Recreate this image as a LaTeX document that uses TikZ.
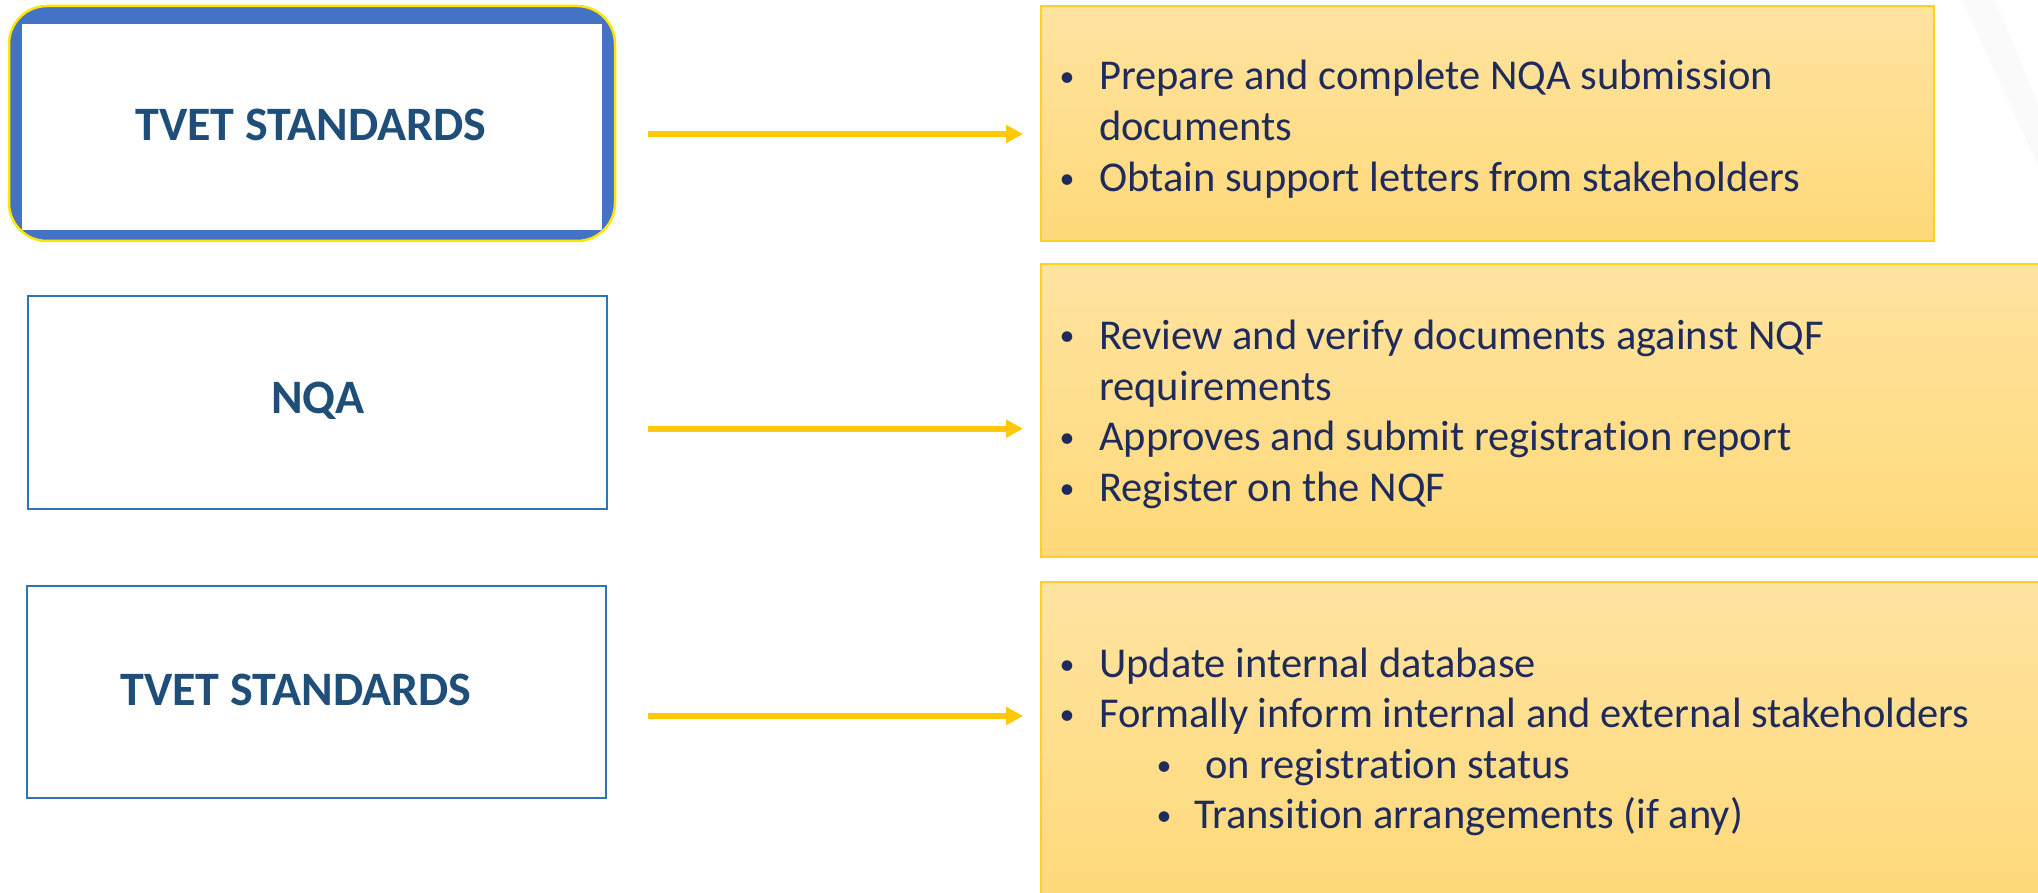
\documentclass[tikz,border=0pt]{standalone}
\usepackage{fontspec}
\setmainfont{Carlito}[Ligatures={NoCommon}]
\usetikzlibrary{arrows.meta}
\definecolor{frameblue}{HTML}{4472C4}
\definecolor{frameyellow}{HTML}{FFE500}
\definecolor{edgeblue}{HTML}{2E75B6}
\definecolor{labelblue}{HTML}{1F4E79}
\definecolor{navy}{HTML}{1F2B5B}
\definecolor{goldline}{HTML}{FFC90A}
\definecolor{paleA}{HTML}{FFE3A0}
\definecolor{paleB}{HTML}{FFD979}
\definecolor{paleedge}{HTML}{FFD21F}
\begin{document}
\begin{tikzpicture}[x=1pt,y=-1pt,
  stepbox/.style={draw=edgeblue, line width=2pt, fill=white, inner sep=0pt},
  actbox/.style={draw=paleedge, line width=2pt, top color=paleA, bottom color=paleB, inner sep=0pt},
  boxlabel/.style={text=labelblue, font=\fontsize{48}{57}\selectfont\bfseries, inner sep=0pt},
  item/.style={text=navy, font=\fontsize{42.5}{51}\selectfont, anchor=base west, inner sep=0pt},
  dot/.style={text=navy, font=\fontsize{30}{36}\selectfont, anchor=base, inner sep=0pt, yshift=3pt},
  flow/.style={draw=goldline, line width=6pt, -{Triangle[length=17pt,width=17.5pt]}}
]
% page
\useasboundingbox (0,0) rectangle (2038,893);
\fill[white] (0,0) rectangle (2038,893);
\clip (0,0) rectangle (2038,893);
% faint background band, top right
\fill[gray!4] (1962,0) -- (1995,0) -- (2038,105) -- (2038,165) -- cycle;

% left column
\node[draw=frameyellow, line width=2.5pt, fill=frameblue, rounded corners=38pt,
      minimum width=606pt, minimum height=235pt, inner sep=0pt] (box1) at (312,123.5) {};
\node[fill=white, minimum width=580.4pt, minimum height=206pt, inner sep=0pt] (box1in) at (311.8,127) {};
\node[boxlabel] (lab1) at (311,125) {TVET STANDARDS};

\node[stepbox, minimum width=579pt, minimum height=213pt] (box2) at (317.4,402.5) {};
\node[boxlabel] (lab2) at (318,400.5) {NQA};

\node[stepbox, minimum width=579pt, minimum height=212pt] (box3) at (316.5,691.5) {};
\node[boxlabel] (lab3) at (296,690) {TVET STANDARDS};

% right column
\node[actbox, minimum width=893pt, minimum height=235pt] (actA) at (1487.5,123.2) {};
\node[actbox, minimum width=1019pt, minimum height=293pt] (actB) at (1550.5,410.5) {};
\node[actbox, minimum width=1019pt, minimum height=328pt] (actC) at (1550.5,746) {};

% items of the first step
\node[dot] (dA1) at (1067,90) {•};
\node[item] (tA1) at (1099,90) {Prepare and complete NQA submission};
\node[item] (tA1b) at (1099,141) {documents};
\node[dot] (dA2) at (1067,192) {•};
\node[item] (tA2) at (1099,192) {Obtain support letters from stakeholders};

% items of the second step
\node[dot] (dB1) at (1067,349) {•};
\node[item] (tB1) at (1099,349) {Review and verify documents against NQF};
\node[item] (tB1b) at (1099,400) {requirements};
\node[dot] (dB2) at (1067,450) {•};
\node[item] (tB2) at (1099,450) {Approves and submit registration report};
\node[dot] (dB3) at (1067,501) {•};
\node[item] (tB3) at (1099,501) {Register on the NQF};

% items of the third step
\node[dot] (dC1) at (1067,677) {•};
\node[item] (tC1) at (1099,677) {Update internal database};
\node[dot] (dC2) at (1067,727) {•};
\node[item] (tC2) at (1099,727) {Formally inform internal and external stakeholders};
\node[dot] (dC3) at (1164,778) {•};
\node[item] (tC3) at (1205,778) {on registration status};
\node[dot] (dC4) at (1164,828) {•};
\node[item] (tC4) at (1194,828) {Transition arrangements (if any)};

% connectors
\coordinate (f1a) at (648,134);   \coordinate (f1b) at (1023,134);
\coordinate (f2a) at (648,428.7); \coordinate (f2b) at (1023,428.7);
\coordinate (f3a) at (648,716);   \coordinate (f3b) at (1023,716);
\draw[flow] (f1a) -- (f1b);
\draw[flow] (f2a) -- (f2b);
\draw[flow] (f3a) -- (f3b);
\end{tikzpicture}
\end{document}
